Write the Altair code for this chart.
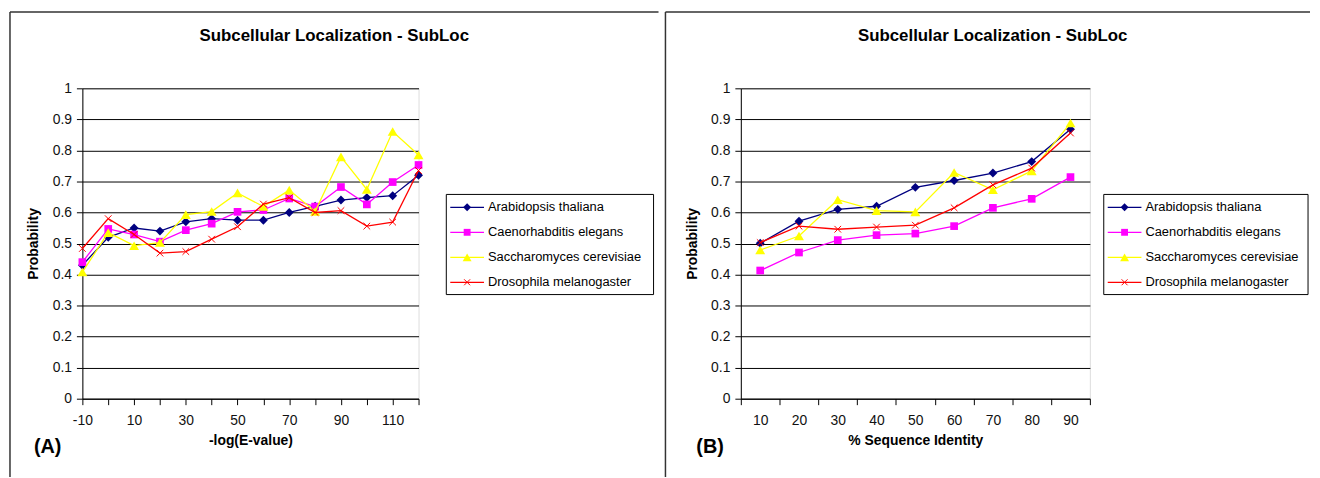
import altair as alt
import pandas as pd

FONT = "Liberation Sans"

series = ["Arabidopsis thaliana", "Caenorhabditis elegans",
          "Saccharomyces cerevisiae", "Drosophila melanogaster"]
colors = ["#000080", "#FF00FF", "#FFFF00", "#FF0000"]

# Panel A: -log(E-value)
evalue_x = [-10, 0, 10, 20, 30, 40, 50, 60, 70, 80, 90, 100, 110, 120]
evalue_arab = [0.43, 0.52, 0.55, 0.54, 0.57, 0.58, 0.575, 0.575, 0.60, 0.62, 0.64, 0.648, 0.654, 0.72]
evalue_cael = [0.44, 0.547, 0.529, 0.506, 0.543, 0.564, 0.602, 0.608, 0.645, 0.619, 0.682, 0.626, 0.698, 0.753]
evalue_sacc = [0.408, 0.535, 0.493, 0.503, 0.593, 0.603, 0.663, 0.619, 0.672, 0.603, 0.779, 0.674, 0.861, 0.785]
evalue_dros = [0.484, 0.58, 0.529, 0.469, 0.474, 0.514, 0.554, 0.627, 0.648, 0.60, 0.606, 0.556, 0.569, 0.735]

# Panel B: % Sequence Identity
ident_x = [10, 20, 30, 40, 50, 60, 70, 80, 90]
ident_arab = [0.501, 0.572, 0.61, 0.62, 0.681, 0.703, 0.727, 0.764, 0.868]
ident_cael = [0.413, 0.471, 0.511, 0.527, 0.532, 0.556, 0.615, 0.644, 0.714]
ident_sacc = [0.479, 0.524, 0.641, 0.606, 0.602, 0.729, 0.673, 0.734, 0.888]
ident_dros = [0.503, 0.556, 0.546, 0.553, 0.559, 0.615, 0.689, 0.743, 0.856]

y_ticks = [round(i / 10, 1) for i in range(11)]
title_text = "Subcellular Localization - SubLoc"

PLOT_H = 313

marker_props = [
    dict(shape="diamond", size=80, filled=True, color=colors[0], opacity=1),
    dict(shape="square", size=60, filled=True, color=colors[1], opacity=1),
    dict(shape="triangle-up", size=100, filled=True, color=colors[2], opacity=1),
    dict(shape="M-1,-1L1,1M-1,1L1,-1", size=45, filled=False, color=colors[3],
         strokeWidth=1, opacity=1),
]


def make_df(xs, cols):
    rows = []
    for s, ys in zip(series, cols):
        for x, y in zip(xs, ys):
            rows.append({"x": x, "y": y, "series": s})
    return pd.DataFrame(rows)


def y_enc():
    return alt.Y(
        "y:Q",
        scale=alt.Scale(domain=[0, 1], nice=False, zero=True),
        axis=alt.Axis(
            values=y_ticks, format=".1~f", title="Probability",
            titleFont=FONT, titleFontSize=14, titleFontWeight="bold", titleColor="black",
            titleAngle=-90, titleX=-49, titleY=PLOT_H / 2, titleAlign="center",
            titleBaseline="middle",
            grid=True, gridColor="black", gridWidth=1, gridOpacity=1,
            domainColor="black", domainWidth=1, tickColor="black", tickSize=6,
            labelPadding=5, labelFont=FONT, labelFontSize=14, labelColor="#111",
        ),
    )


one = alt.Data(values=[{"k": 0}])


def hrule(y, x1, x2, color="#333", w=1.5):
    return alt.Chart(one).mark_rule(color=color, strokeWidth=w).encode(
        x=alt.value(x1), x2=alt.value(x2), y=alt.value(y))


def vrule(x, y1, y2, color="#333", w=1.5):
    return alt.Chart(one).mark_rule(color=color, strokeWidth=w).encode(
        x=alt.value(x), y=alt.value(y1), y2=alt.value(y2))


def label(x, y, text, size, bold=False, align="center"):
    return alt.Chart(one).mark_text(
        font=FONT, fontSize=size, fontWeight="bold" if bold else "normal",
        align=align, baseline="middle", color="black",
    ).encode(x=alt.value(x), y=alt.value(y), text=alt.value(text))


def legend_layers(box_x1, box_x2):
    out = [alt.Chart(one).mark_rect(fill="white", stroke="black", strokeWidth=1).encode(
        x=alt.value(box_x1), x2=alt.value(box_x2), y=alt.value(107), y2=alt.value(208))]
    for i, s in enumerate(series):
        yy = 120 + 25.2 * i
        out.append(hrule(yy, box_x1 + 4, box_x1 + 38, colors[i], 1.2))
        mp = dict(marker_props[i])
        mp["size"] = mp["size"] * 0.8
        out.append(alt.Chart(one).mark_point(**mp).encode(
            x=alt.value(box_x1 + 21), y=alt.value(yy)))
        out.append(label(box_x1 + 42, yy, s, 13, align="left"))
    return out


def panel(df, xenc, width, frame_left, frame_right, box_x1, box_x2, letter, letter_x):
    base = alt.Chart(df).encode(x=xenc, y=y_enc())
    layers = []
    layers.append(hrule(-77, frame_left, frame_right))
    layers.append(vrule(frame_left, -77, 392))
    if frame_right < 560:
        layers.append(vrule(frame_right, -77, 392))
    layers.append(label(254, -53, title_text, 17, bold=True))
    for i, s in enumerate(series):
        b = base.transform_filter(alt.datum.series == s)
        layers.append(b.mark_line(color=colors[i], strokeWidth=1.3))
        layers.append(b.mark_point(**marker_props[i]))
    layers += legend_layers(box_x1, box_x2)
    layers.append(label(letter_x, 362, letter, 20, bold=True))
    return alt.layer(*layers).properties(width=width, height=PLOT_H)


axis_common = dict(
    grid=False, domainColor="black", domainWidth=1, tickColor="black", tickSize=6,
    labelFont=FONT, labelFontSize=14, labelColor="#111", labelPadding=9,
    titleFont=FONT, titleFontSize=14, titleFontWeight="bold", titleColor="black",
    titleY=42, titleBaseline="middle",
)

x_left = alt.X(
    "x:Q",
    scale=alt.Scale(domain=[-10, 120], nice=False, zero=False),
    axis=alt.Axis(
        values=evalue_x,
        labelExpr="(datum.value + 10) % 20 == 0 ? '' + datum.value : ''",
        labelOverlap=False, labelFlush=False, title="-log(E-value)", **axis_common),
)

x_right = alt.X(
    "x:O",
    sort=ident_x,
    scale=alt.Scale(type="band", paddingInner=0, paddingOuter=0),
    axis=alt.Axis(tickBand="extent", labelAngle=0, title="% Sequence Identity", **axis_common),
)

left = panel(make_df(evalue_x, [evalue_arab, evalue_cael, evalue_sacc, evalue_dros]),
             x_left, 339, -73, 581, 367, 576, "(A)", -35)
right = panel(make_df(ident_x, [ident_arab, ident_cael, ident_sacc, ident_dros]),
              x_right, 352, -76, 574, 366, 572, "(B)", -31)

chart = alt.hconcat(left, right, spacing=325, bounds="flush").properties(
    padding=0
).configure_view(fill="#C0C0C0", stroke="#808080", strokeWidth=1).configure(
    background="white"
)

chart.save("out.html", embed_options={"renderer": "svg", "actions": False})
